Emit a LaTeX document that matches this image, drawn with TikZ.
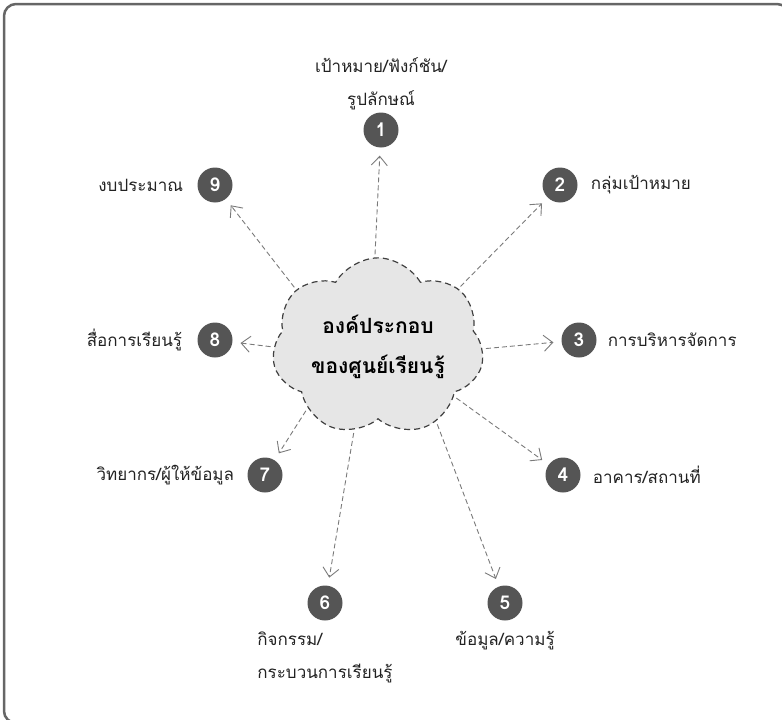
\documentclass[tikz,border=0pt]{standalone}
\usepackage{fontspec}
\newfontfamily\thaifont[Script=Thai]{Loma}
\usetikzlibrary{arrows.meta,shapes.symbols,positioning}
\definecolor{framegray}{HTML}{666666}
\definecolor{cloudfill}{HTML}{E6E6E6}
\definecolor{dotgray}{HTML}{555555}
\definecolor{linkgray}{HTML}{7A7A7A}
\definecolor{textdark}{HTML}{222222}

\begin{document}
\begin{tikzpicture}[x=1pt,y=-1pt,
  cloudbox/.style={cloud,cloud puffs=7,cloud puff arc=120,aspect=1.3,
    draw=black!75,dash pattern=on 6pt off 4pt,fill=cloudfill,
    line width=1.2pt,minimum width=212pt,minimum height=164pt,
    inner sep=0pt,align=center,
    font=\thaifont\bfseries\fontsize{21}{40}\selectfont},
  numdot/.style={circle,fill=dotgray,minimum size=35pt,inner sep=0pt,
    text=white,font=\thaifont\bfseries\fontsize{19}{19}\selectfont},
  link/.style={-{Straight Barb[length=9pt,width=16pt]},draw=linkgray,
    line width=0.9pt,dash pattern=on 5pt off 3pt,
    shorten <=3pt,shorten >=8pt},
  lab/.style={font=\thaifont\fontsize{17}{33}\selectfont,text=textdark,
    inner sep=0pt}
]
\useasboundingbox (0,0) rectangle (782,720);
\begin{scope}
\clip (0,0) rectangle (782,720);
\draw[framegray,line width=2.5pt,rounded corners=12pt]
  (4,4) rectangle (789,723);
\end{scope}

\node[cloudbox] (cloud) at (378,347) {องค์ประกอบ\\ของศูนย์เรียนรู้};

\node[numdot] (c1) at (381,130) {1};
\node[numdot] (c2) at (560,185) {2};
\node[numdot] (c3) at (579,340) {3};
\node[numdot] (c4) at (563,475) {4};
\node[numdot] (c5) at (505,603) {5};
\node[numdot] (c6) at (325,603) {6};
\node[numdot] (c7) at (265,475) {7};
\node[numdot] (c8) at (215,340) {8};
\node[numdot] (c9) at (215,185) {9};

\node[lab,align=center,above=2pt of c1] (l1)
  {เป้าหมาย/ฟังก์ชัน/\\รูปลักษณ์};
\node[lab,right=13pt of c2] (l2) {กลุ่มเป้าหมาย};
\node[lab,right=11pt of c3] (l3) {การบริหารจัดการ};
\node[lab,right=12pt of c4] (l4) {อาคาร/สถานที่};
\node[lab,below=10pt of c5] (l5) {ข้อมูล/ความรู้};
\node[lab,align=left,below=11pt of c6] (l6)
  {กิจกรรม/\\กระบวนการเรียนรู้};
\node[lab,left=13pt of c7] (l7) {วิทยากร/ผู้ให้ข้อมูล};
\node[lab,left=15pt of c8] (l8) {สื่อการเรียนรู้};
\node[lab,left=14pt of c9] (l9) {งบประมาณ};

\draw[link] (cloud.92) -- (c1);
\draw[link] (cloud.36) -- (c2);
\draw[link] (cloud.-1) -- (c3);
\draw[link] (cloud.-33) -- (c4);
\draw[link] (cloud.-52) -- (c5);
\draw[link] (cloud.-106) -- (c6);
\draw[link] (cloud.-139) -- (c7);
\draw[link] (cloud.180) -- (c8);
\draw[link] (cloud.145) -- (c9);
\end{tikzpicture}
\end{document}
